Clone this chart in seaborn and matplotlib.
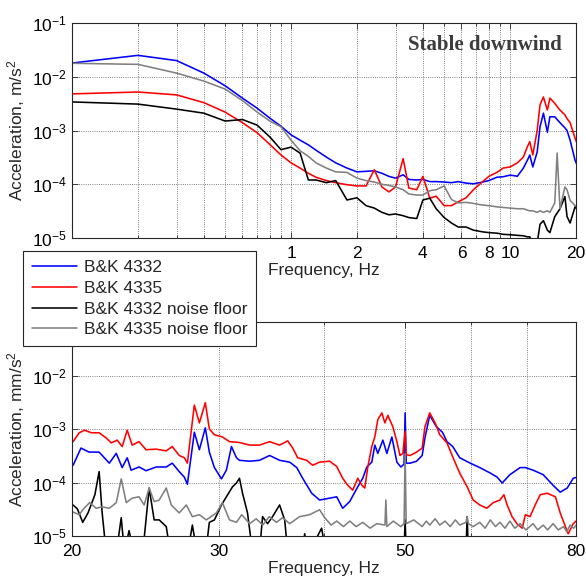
import numpy as np
import pandas as pd
import seaborn as sns
import matplotlib.pyplot as plt
from matplotlib.ticker import NullFormatter, NullLocator

# ---- top panel: 0.1 - 20 Hz, acceleration in m/s^2 ----
top_freq = [0.1, 0.2, 0.3, 0.4, 0.5, 0.6, 0.7, 0.8, 0.9, 1.0,
            1.1, 1.2, 1.3, 1.45, 1.6, 1.8, 2.0, 2.2, 2.4, 2.6,
            2.8, 3.0, 3.25, 3.45, 3.75, 4.0, 4.3, 4.6, 5.0, 5.4,
            5.8, 6.3, 6.8, 7.5, 8.0, 8.7, 9.3, 10.0, 10.8, 11.5,
            12.0, 12.3, 12.7, 13.3, 13.7, 14.2, 14.8, 15.2, 16.0, 16.4,
            16.9, 17.8, 18.2, 18.8, 19.8, 20.5]
top_4332 = [1.8e-2, 2.5e-2, 2.0e-2, 1.17e-2, 6.8e-3, 4.0e-3, 2.6e-3, 1.7e-3, 1.2e-3, 8.3e-4,
            6.6e-4, 5.4e-4, 4.3e-4, 3.2e-4, 2.5e-4, 2.0e-4, 1.7e-4, 1.74e-4, 1.78e-4, 1.6e-4,
            1.4e-4, 1.3e-4, 1.5e-4, 1.23e-4, 1.2e-4, 1.23e-4, 1.12e-4, 1.12e-4, 1.1e-4, 1.07e-4,
            1.12e-4, 1.05e-4, 1.02e-4, 1.1e-4, 1.17e-4, 1.35e-4, 1.38e-4, 1.48e-4, 1.41e-4, 2.0e-4,
            2.8e-4, 3.5e-4, 2.1e-4, 4.0e-4, 1.17e-3, 2.1e-3, 9.3e-4, 1.8e-3, 1.8e-3, 1.6e-3,
            1.4e-3, 1.12e-3, 1.0e-3, 6.6e-4, 2.8e-4, 2.0e-4]
top_4335 = [4.8e-3, 5.2e-3, 4.6e-3, 3.3e-3, 2.2e-3, 1.4e-3, 9.1e-4, 5.5e-4, 3.5e-4, 2.5e-4,
            2.0e-4, 1.6e-4, 1.35e-4, 1.17e-4, 1.07e-4, 9.8e-5, 9.3e-5, 9.3e-5, 1.86e-4, 8.9e-5,
            7.2e-5, 8.9e-5, 3.0e-4, 8.5e-5, 7.9e-5, 1.4e-4, 5.5e-5, 6.0e-5, 4.0e-5, 4.0e-5,
            4.7e-5, 5.6e-5, 7.9e-5, 1.12e-4, 1.4e-4, 1.66e-4, 2.0e-4, 2.1e-4, 2.5e-4, 3.2e-4,
            5.0e-4, 6.2e-4, 3.5e-4, 1.0e-3, 3.0e-3, 4.2e-3, 2.4e-3, 4.0e-3, 3.2e-3, 2.8e-3,
            2.4e-3, 1.95e-3, 1.66e-3, 1.4e-3, 7.2e-4, 5.0e-4]
top_noise_4332 = [3.4e-3, 3.1e-3, 2.5e-3, 2.1e-3, 1.5e-3, 1.6e-3, 1.26e-3, 7.6e-4, 4.4e-4, 4.9e-4,
                  3.8e-4, 1.2e-4, 1.2e-4, 1.07e-4, 1.17e-4, 5.1e-5, 5.6e-5, 4.0e-5, 3.6e-5, 3.0e-5,
                  2.7e-5, 2.8e-5, 2.6e-5, 2.4e-5, 2.3e-5, 5.1e-5, 5.5e-5, 3.5e-5, 2.4e-5, 1.9e-5,
                  1.6e-5, 1.6e-5, 1.4e-5, 1.3e-5, 1.26e-5, 1.23e-5, 1.17e-5, 1.15e-5, 1.12e-5, 1.1e-5,
                  1.05e-5, 1.05e-5, 8e-6, 8e-6, 1.8e-5, 2.1e-5, 1.4e-5, 1.26e-5, 2.5e-5, 2.9e-5,
                  3.5e-5, 5.9e-5, 2.5e-5, 1.9e-5, 3.8e-5, 3.2e-5]
top_noise_4335 = [1.78e-2, 1.7e-2, 1.17e-2, 8.3e-3, 5.9e-3, 3.6e-3, 2.2e-3, 1.5e-3, 1.17e-3, 6.6e-4,
                  4.2e-4, 3.3e-4, 2.5e-4, 2.0e-4, 1.7e-4, 1.66e-4, 1.3e-4, 1.17e-4, 1.1e-4, 1.0e-4,
                  9.5e-5, 8.9e-5, 7.9e-5, 6.6e-5, 6.3e-5, 6.3e-5, 7.6e-5, 7.9e-5, 9.3e-5, 5.2e-5,
                  4.5e-5, 4.6e-5, 4.4e-5, 4.1e-5, 4.0e-5, 3.8e-5, 3.7e-5, 3.6e-5, 3.5e-5, 3.5e-5,
                  3.3e-5, 3.2e-5, 3.2e-5, 3.0e-5, 3.2e-5, 3.0e-5, 3.2e-5, 3.0e-5, 4.5e-5, 3.8e-4,
                  3.5e-5, 8.9e-5, 7.9e-5, 5.0e-5, 4.0e-5, 4.0e-5]

# ---- bottom panel: 20 - 80 Hz, acceleration in mm/s^2 ----
bot_freq_4332 = [20.06, 20.5, 20.96, 21.55, 22.16, 22.59, 22.96, 23.28, 23.53, 24.05,
                 24.52, 25.21, 25.92, 26.35, 26.86, 27.24, 27.47, 27.77, 28.0, 28.39,
                 28.86, 29.18, 29.59, 30.17, 30.58, 31.01, 31.44, 31.7, 32.6, 33.5,
                 34.44, 35.4, 36.4, 37.11, 37.72, 38.67, 39.52, 40.62, 41.42, 42.11,
                 42.93, 43.89, 44.5, 45.0, 45.62, 46.0, 46.38, 47.03, 47.55, 48.21,
                 48.88, 49.42, 49.85, 50.0, 50.15, 50.7, 51.6, 52.4, 52.8, 53.5,
                 54.5, 55.4, 56.1, 57.0, 58.1, 59.8, 61.4, 63.2, 64.4, 65.3,
                 66.7, 68.6, 69.6, 71.1, 73.1, 75.1, 76.6, 78.1, 79.4, 80.3]
bot_4332 = [2.1e-4, 4.4e-4, 3.7e-4, 3.7e-4, 2.3e-4, 3.5e-4, 1.9e-4, 2.9e-4, 1.7e-4, 1.95e-4,
            1.66e-4, 1.95e-4, 1.95e-4, 2.3e-4, 1.6e-4, 1.26e-4, 9.3e-5, 3.3e-4, 8.7e-4, 4.1e-4,
            1.05e-3, 3.7e-4, 1.9e-4, 1.17e-4, 1.7e-4, 4.7e-4, 2.9e-4, 2.6e-4, 2.5e-4, 2.6e-4,
            3.2e-4, 2.6e-4, 2.4e-4, 1.9e-4, 1.2e-4, 6.3e-5, 4.7e-5, 5.1e-5, 5.4e-5, 3.3e-5,
            4.4e-5, 8.3e-5, 1.2e-4, 1.95e-4, 2.4e-4, 5.0e-4, 3.5e-4, 6.2e-4, 3.5e-4, 7.1e-4,
            2.4e-4, 1.95e-4, 2.2e-4, 2.0e-3, 2.3e-4, 2.3e-4, 2.5e-4, 3.2e-4, 6.8e-4, 1.8e-3,
            1.1e-3, 8.7e-4, 5.8e-4, 4.7e-4, 2.9e-4, 2.3e-4, 1.9e-4, 1.5e-4, 1.26e-4, 9.8e-5,
            1.4e-4, 1.9e-4, 1.9e-4, 1.7e-4, 1.4e-4, 8.9e-5, 6.6e-5, 7.9e-5, 1.2e-4, 1.26e-4]
bot_freq_4335 = [20.06, 20.4, 20.7, 21.1, 21.55, 21.97, 22.28, 22.65, 22.96, 23.28,
                 23.6, 24.05, 24.52, 25.21, 25.92, 26.35, 26.86, 27.24, 27.47, 27.77,
                 28.0, 28.39, 28.86, 29.18, 29.59, 30.25, 30.84, 31.7, 32.59, 33.5,
                 34.44, 35.4, 36.2, 36.7, 37.21, 38.14, 38.77, 39.52, 40.62, 41.42,
                 42.11, 42.7, 43.29, 43.89, 44.38, 44.75, 45.12, 45.62, 46.0, 46.38,
                 46.9, 47.29, 47.68, 48.34, 48.88, 49.3, 49.69, 50.0, 50.15, 50.7,
                 51.6, 52.4, 52.8, 53.5, 54.3, 55.0, 56.1, 57.0, 58.1, 59.3,
                 60.3, 61.4, 62.6, 63.7, 64.9, 65.6, 66.2, 67.1, 68.0, 69.0,
                 69.6, 70.5, 71.5, 72.5, 73.9, 75.6, 76.6, 77.7, 78.3, 79.4,
                 80.3]
bot_4335 = [5.8e-4, 8.5e-4, 9.5e-4, 8.5e-4, 8.5e-4, 6.8e-4, 5.5e-4, 6.2e-4, 4.7e-4, 9.5e-4,
            5.0e-4, 5.8e-4, 4.1e-4, 4.2e-4, 3.9e-4, 4.7e-4, 3.2e-4, 2.9e-4, 2.3e-4, 9.5e-4,
            2.8e-3, 1.3e-3, 3.1e-3, 1.0e-3, 7.8e-4, 7.1e-4, 5.8e-4, 5.6e-4, 5.0e-4, 5.0e-4,
            5.8e-4, 5.0e-4, 6.0e-4, 4.4e-4, 2.9e-4, 2.6e-4, 2.1e-4, 2.4e-4, 2.5e-4, 2.0e-4,
            1.2e-4, 8.9e-5, 7.2e-5, 1.2e-4, 8.9e-5, 7.9e-5, 1.95e-4, 4.7e-4, 7.1e-4, 1.5e-3,
            2.0e-3, 1.3e-3, 1.8e-3, 1.1e-3, 5.8e-4, 3.2e-4, 3.5e-4, 9.0e-4, 3.3e-4, 3.2e-4,
            3.7e-4, 4.4e-4, 1.1e-3, 2.0e-3, 1.3e-3, 7.8e-4, 5.5e-4, 3.0e-4, 1.5e-4, 8.3e-5,
            4.7e-5, 3.8e-5, 3.3e-5, 4.2e-5, 4.7e-5, 5.9e-5, 3.8e-5, 2.3e-5, 1.7e-5, 1.4e-5,
            2.5e-5, 2.3e-5, 3.8e-5, 5.9e-5, 6.3e-5, 5.4e-5, 2.7e-5, 1.5e-5, 1.1e-5, 1.7e-5,
            2.0e-5]
bot_freq_noise_4332 = [20.06, 20.3, 20.6, 20.9, 21.3, 21.55, 21.73, 21.97, 22.6, 22.9,
                       23.1, 23.4, 23.7, 24.3, 24.73, 25.07, 25.42, 25.92, 26.2, 27.5,
                       27.85, 28.2, 28.9, 29.18, 29.59, 30.17, 30.58, 31.1, 31.44, 31.7,
                       31.97, 32.41, 32.86, 33.5, 33.78, 34.25, 34.72, 35.4, 35.9, 36.2,
                       37.7, 37.93, 38.2, 39.3, 39.74, 40.2, 49.85, 50.0, 50.15, 59.1,
                       59.3, 59.5, 80.3]
bot_noise_4332 = [3.8e-5, 3.2e-5, 1.8e-5, 2.7e-5, 5.9e-5, 1.6e-4, 2.7e-5, 5e-6, 5e-6, 2.2e-5,
                  5e-6, 1.26e-5, 5e-6, 5e-6, 7.9e-5, 2.0e-5, 2.0e-5, 1.5e-5, 5e-6, 5e-6,
                  1.6e-5, 5e-6, 5e-6, 1.8e-5, 2.0e-5, 3.8e-5, 5.4e-5, 8.3e-5, 9.8e-5, 1.2e-4,
                  6.3e-5, 2.7e-5, 5e-6, 5e-6, 2.3e-5, 1.7e-5, 2.3e-5, 3.8e-5, 2.0e-5, 5e-6,
                  5e-6, 1.1e-5, 5e-6, 1.0e-5, 1.4e-5, 5e-6, 5e-6, 2.0e-5, 5e-6, 5e-6,
                  2.3e-5, 5e-6, 5e-6]
bot_freq_noise_4335 = [20.06, 20.4, 20.67, 21.0, 21.37, 21.73, 22.16, 22.59, 22.9, 23.22,
                       23.6, 24.05, 24.39, 24.73, 25.07, 25.42, 25.92, 26.28, 26.86, 27.39,
                       27.85, 28.39, 28.94, 29.75, 30.25, 30.84, 31.44, 31.9, 32.6, 33.2,
                       33.8, 34.4, 35.1, 35.7, 36.4, 37.4, 38.45, 39.52, 40.07, 40.8,
                       41.42, 42.2, 42.93, 43.7, 44.5, 45.4, 46.26, 47.3, 47.42, 47.55,
                       48.4, 49.4, 49.85, 50.0, 50.15, 51.2, 52.4, 53.0, 53.5, 54.3,
                       55.0, 55.8, 56.6, 57.4, 58.1, 59.1, 59.3, 59.5, 60.3, 61.4,
                       62.3, 63.2, 64.1, 64.9, 65.8, 66.7, 67.6, 68.6, 69.7, 71.1,
                       72.0, 73.1, 74.0, 75.1, 76.2, 77.3, 78.0, 78.7, 79.5, 80.3]
bot_noise_4335 = [2.8e-5, 2.5e-5, 3.3e-5, 4.2e-5, 3.3e-5, 3.5e-5, 3.3e-5, 4.2e-5, 1.17e-4, 4.2e-5,
                  5.1e-5, 5.4e-5, 3.8e-5, 7.9e-5, 4.4e-5, 4.7e-5, 7.9e-5, 3.8e-5, 2.7e-5, 3.8e-5,
                  2.3e-5, 2.5e-5, 2.0e-5, 2.7e-5, 4.2e-5, 2.0e-5, 1.8e-5, 2.5e-5, 1.7e-5, 2.1e-5,
                  1.6e-5, 2.3e-5, 1.8e-5, 2.2e-5, 1.7e-5, 2.3e-5, 2.5e-5, 3.1e-5, 2.2e-5, 1.6e-5,
                  1.9e-5, 1.5e-5, 1.9e-5, 1.5e-5, 1.8e-5, 1.4e-5, 1.7e-5, 1.6e-5, 4.7e-5, 1.5e-5,
                  1.9e-5, 1.5e-5, 1.7e-5, 3.5e-4, 1.7e-5, 2.0e-5, 1.5e-5, 1.9e-5, 1.6e-5, 2.1e-5,
                  1.6e-5, 1.9e-5, 1.5e-5, 2.0e-5, 1.6e-5, 1.8e-5, 2.3e-5, 1.7e-5, 1.5e-5, 1.8e-5,
                  1.4e-5, 2.0e-5, 1.5e-5, 1.8e-5, 1.4e-5, 1.9e-5, 1.4e-5, 1.7e-5, 1.3e-5, 1.7e-5,
                  1.3e-5, 1.6e-5, 1.3e-5, 1.7e-5, 1.3e-5, 1.5e-5, 1.2e-5, 1.6e-5, 1.4e-5, 1.7e-5]

labels = ['B&K 4332', 'B&K 4335', 'B&K 4332 noise floor', 'B&K 4335 noise floor']
colors = ['#0000ff', '#ff0000', '#000000', '#808080']

top_series = [(top_freq, top_4332), (top_freq, top_4335),
              (top_freq, top_noise_4332), (top_freq, top_noise_4335)]
bot_series = [(bot_freq_4332, bot_4332), (bot_freq_4335, bot_4335),
              (bot_freq_noise_4332, bot_noise_4332), (bot_freq_noise_4335, bot_noise_4335)]

sns.set_theme(style='white')
plt.rcParams['font.family'] = ['Liberation Sans', 'DejaVu Sans']
plt.rcParams['mathtext.default'] = 'regular'
FS = 12.5

fig = plt.figure(figsize=(5.86, 5.79), dpi=100)
ax_top = fig.add_axes([72 / 586, 1 - 238 / 579, 504 / 586, 215 / 579])
ax_bot = fig.add_axes([72 / 586, 1 - 536 / 579, 504 / 586, 214 / 579])

for ax, series in [(ax_top, top_series), (ax_bot, bot_series)]:
    for (f, a), lab, c in zip(series, labels, colors):
        sns.lineplot(x=f, y=a, ax=ax, color=c, lw=1.15, label=lab,
                     estimator=None, sort=False, legend=False)
    ax.set_xscale('log')
    ax.set_yscale('log')
    ax.set_ylim(1e-5, 1e-1)
    ax.set_yticks([1e-5, 1e-4, 1e-3, 1e-2, 1e-1])
    ax.yaxis.set_minor_locator(NullLocator())
    ax.xaxis.set_minor_formatter(NullFormatter())
    ax.tick_params(which='both', direction='in', top=True, right=True,
                   bottom=True, left=True, labelsize=FS, colors='#262626',
                   labelcolor='black', width=0.6)
    ax.tick_params(which='major', length=4)
    ax.tick_params(which='minor', length=2.5)
    ax.tick_params(axis='x', pad=6)
    ax.grid(True, which='both', axis='x', linestyle=':', color='#555555', lw=0.6)
    ax.grid(True, which='major', axis='y', linestyle=':', color='#555555', lw=0.6)
    for sp in ax.spines.values():
        sp.set_color('#262626')
        sp.set_linewidth(0.8)
    ax.set_xlabel('Frequency, Hz', fontsize=FS, labelpad=1)

# top axis ticks
ax_top.set_xlim(0.1, 20)
ax_top.set_xticks([1, 2, 4, 6, 8, 10, 20])
ax_top.set_xticklabels(['1', '2', '4', '6', '8', '10', '20'])
ax_top.set_xticks([0.2, 0.3, 0.4, 0.5, 0.6, 0.7, 0.8, 0.9, 3, 5, 7, 9], minor=True)
ax_top.set_ylabel('Acceleration, m/s$^2$', fontsize=FS, labelpad=4)
ax_top.text(0.972, 0.9, 'Stable downwind', transform=ax_top.transAxes,
            ha='right', va='center', fontsize=15, fontweight='bold',
            family='Liberation Serif', color='#3c3c3c')

# bottom axis ticks
ax_bot.set_xlim(20, 80)
ax_bot.set_xticks([20, 30, 50, 80])
ax_bot.set_xticklabels(['20', '30', '50', '80'])
ax_bot.set_xticks([40, 60, 70], minor=True)
ax_bot.set_ylabel('Acceleration, mm/s$^2$', fontsize=FS, labelpad=4)

handles = ax_top.get_lines()[:4]
leg = fig.legend(handles, labels, loc='upper left',
                 bbox_to_anchor=(23 / 586, 1 - 251 / 579), borderaxespad=0,
                 fontsize=FS, frameon=True, fancybox=False, framealpha=1,
                 edgecolor='#262626', handlelength=2.6, handletextpad=0.4,
                 borderpad=0.5, labelspacing=0.33)
leg.get_frame().set_linewidth(0.8)

fig.savefig('out.png', dpi=100)
